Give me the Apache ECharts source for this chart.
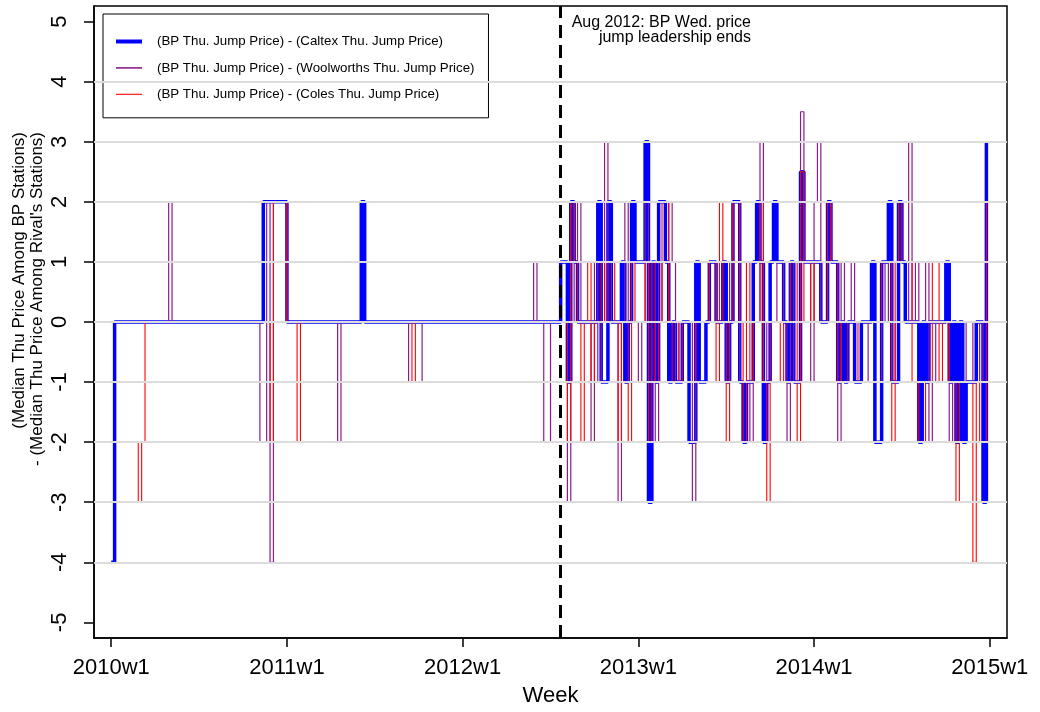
<!DOCTYPE html>
<html>
<head>
<meta charset="utf-8">
<script src="https://cdn.jsdelivr.net/npm/echarts@6/dist/echarts.min.js"></script>
<style>
html,body{margin:0;padding:0;background:#fff;}
#chart{width:1040px;height:712px;}
</style>
</head>
<body>
<div id="chart"></div>
<script>
// Week index: 0 = 2010w1, 52 = 2011w1, ... 260 = 2015w1
const xTickWeeks = [0, 52, 104, 156, 208, 260];
const xTickLabels = ['2010w1', '2011w1', '2012w1', '2013w1', '2014w1', '2015w1'];
const yTickValues = [-5, -4, -3, -2, -1, 0, 1, 2, 3, 4, 5];
const gridLevels = [-4, -3, -2, -1, 0, 1, 2, 3, 4];
const leadershipEndWeek = 133;

const seriesNames = [
  '(BP Thu. Jump Price) - (Caltex Thu. Jump Price)',
  '(BP Thu. Jump Price) - (Woolworths Thu. Jump Price)',
  '(BP Thu. Jump Price) - (Coles Thu. Jump Price)'
];

// [week, value] at each change of the step series
const caltexDiff = [[0,-4],[1,0],[45,2],[52,0],[74,2],[75,0],[133,1],[135,-1],[136,2],[137,1],[138,0],
  [144,2],[145,-1],[147,2],[148,0],[151,1],[152,-1],[153,0],[154,2],[155,1],[158,3],[159,-3],[160,1],
  [161,-1],[162,2],[164,1],[165,-1],[166,0],[167,-1],[169,0],[171,-2],[173,1],[174,-1],[176,0],[177,1],
  [179,0],[181,1],[182,-1],[183,0],[184,2],[186,-1],[187,-2],[188,-1],[190,1],[191,2],[192,1],[193,-2],
  [194,-1],[195,1],[196,2],[197,1],[199,0],[200,-1],[201,1],[202,-1],[204,2.5],[205,1],[210,0],[212,2],
  [213,1],[215,-1],[216,0],[217,-1],[218,0],[220,-1],[222,0],[225,1],[226,-2],[228,1],[230,2],[231,-1],
  [233,2],[234,1],[235,0],[239,-2],[240,0],[241,-1],[242,0],[247,1],[248,-1],[249,0],[250,-2],[251,0],
  [252,-2],[253,-1],[256,0],[258,-3],[259,3]];

const woolworthsDiff = [[0,0],[17,2],[18,0],[44,-2],[46,2],[47,-4],[48,2],[52,0],[67,-2],[68,0],[88,-1],
  [92,0],[125,1],[126,0],[128,-2],[130,0],[135,-3],[136,2],[137,0],[138,2],[139,0],[142,-2],[143,1],
  [144,-1],[145,0],[146,3],[147,1],[148,0],[150,-3],[151,0],[152,2],[153,0],[156,-1],[157,0],[158,2],
  [159,0],[161,-2],[162,1],[163,0],[165,2],[166,1],[167,-1],[168,0],[172,-3],[173,0],[177,1],[179,0],
  [183,1],[184,2],[186,-1],[189,-2],[190,0],[192,3],[193,-1],[194,0],[197,1],[199,0],[200,-2],[201,1],
  [202,-1],[204,3.5],[205,1],[207,-1],[208,2],[209,3],[210,0],[212,2],[213,1],[215,-2],[216,1],[217,0],
  [219,1],[220,0],[224,-1],[228,0],[229,1],[230,0],[231,-1],[232,0],[236,3],[237,0],[238,1],[239,0],
  [241,1],[242,-2],[243,-1],[244,0],[248,-2],[249,-1],[253,0],[255,-1],[257,0],[258,-1],[259,-1]];

const colesDiff = [[5,-2],[8,-3],[9,-2],[10,0],[47,-2],[48,2],[52,0],[55,-2],[56,0],[89,-1],[90,0],
  [135,-2],[136,2],[137,1],[138,0],[139,-2],[140,0],[141,1],[142,-1],[143,0],[145,1],[146,0],[147,1],
  [149,0],[150,-2],[151,0],[153,-2],[154,1],[155,0],[158,1],[159,-2],[160,1],[161,-1],[162,0],[163,2],
  [165,0],[166,-1],[168,0],[169,-1],[173,0],[177,1],[179,-1],[180,2],[181,0],[182,-2],[183,0],[184,2],
  [186,0],[187,-2],[188,1],[189,-1],[190,0],[192,2],[193,-1],[194,-3],[195,0],[198,-1],[199,0],[201,1],
  [203,-2],[204,2.5],[205,0],[207,1],[208,0],[212,2],[213,1],[215,-1],[216,0],[218,-1],[221,0],[228,1],
  [231,-2],[232,1],[233,2],[234,1],[237,-1],[239,-2],[241,-1],[243,1],[245,-1],[246,0],[248,-1],
  [250,-3],[251,-1],[255,-4],[256,-1],[257,-2],[259,2]];

const FONT = '"Liberation Sans", Arial, Helvetica, sans-serif';
const chart = echarts.init(document.getElementById('chart'), null, {renderer: 'canvas'});

const option = {
  backgroundColor: '#ffffff',
  animation: false,
  grid: {left: 94, right: 33, top: 6, bottom: 71, show: true, borderColor: '#000', borderWidth: 1.5, backgroundColor: 'transparent'},
  legend: {
    data: [
      {name: seriesNames[0], lineStyle: {width: 4}},
      {name: seriesNames[1], lineStyle: {width: 1.6}},
      {name: seriesNames[2], lineStyle: {width: 1.1}}
    ],
    orient: 'vertical', left: 103, top: 14,
    padding: [21, 14, 17, 11], itemWidth: 26, itemHeight: 14, itemGap: 13.4,
    backgroundColor: '#fff', borderColor: '#000', borderWidth: 1, borderRadius: 0,
    selectedMode: false,
    itemStyle: {opacity: 0},
    textStyle: {fontFamily: FONT, fontSize: 13.3, color: '#000', padding: [0, 0, 0, 10]}
  },
  xAxis: {
    type: 'value', min: -5.1, max: 265.1,
    name: 'Week', nameLocation: 'middle', nameGap: 47,
    nameTextStyle: {fontFamily: FONT, fontSize: 22, color: '#000'},
    axisLine: {show: true, onZero: false, lineStyle: {color: '#000', width: 1.5}},
    axisTick: {show: true, length: 9, customValues: xTickWeeks, lineStyle: {color: '#000', width: 1.5}},
    axisLabel: {customValues: xTickWeeks, margin: 19, fontFamily: FONT, fontSize: 22, color: '#000',
      formatter: v => { const i = xTickWeeks.indexOf(v); return i >= 0 ? xTickLabels[i] : ''; }},
    splitLine: {show: false}
  },
  yAxis: {
    type: 'value', min: -5.26, max: 5.26,
    axisLine: {show: true, onZero: false, lineStyle: {color: '#000', width: 1.5}},
    axisTick: {show: true, length: 10, customValues: yTickValues, lineStyle: {color: '#000', width: 1.5}},
    axisLabel: {customValues: yTickValues, rotate: 90, margin: 23, fontFamily: FONT, fontSize: 22, color: '#000',
      formatter: v => String(v)},
    splitLine: {show: false}
  },
  graphic: [
    {type: 'text', x: 751, y: 15, z: 100,
      style: {text: 'Aug 2012: BP Wed. price\njump leadership ends', align: 'right', verticalAlign: 'top',
        fontFamily: FONT, fontSize: 16, lineHeight: 15, fill: '#000'}},
    {type: 'text', x: 28, y: 132, rotation: Math.PI / 2, z: 100,
      style: {text: '(Median Thu Price Among BP Stations)\n- (Median Thu Price Among Rival\'s Stations)',
        align: 'right', verticalAlign: 'middle', fontFamily: FONT, fontSize: 17, lineHeight: 18, fill: '#000'}}
  ],
  series: [
    {type: 'line', name: '__grid', data: [], z: 1, silent: true,
      markLine: {silent: true, symbol: ['none', 'none'], label: {show: false}, animation: false,
        lineStyle: {color: '#dcdcdc', width: 2, type: 'solid'},
        data: gridLevels.map(v => ({yAxis: v}))}},
    {type: 'line', name: seriesNames[0], data: caltexDiff, step: 'end', showSymbol: false, symbol: 'none', z: 2,
      lineStyle: {color: '#0000ff', width: 3.5}, itemStyle: {color: '#0000ff'}},
    {type: 'line', name: seriesNames[1], data: woolworthsDiff, step: 'end', showSymbol: false, symbol: 'none', z: 3,
      lineStyle: {color: '#8b1c8b', width: 1.2}, itemStyle: {color: '#8b1c8b'}},
    {type: 'line', name: seriesNames[2], data: colesDiff, step: 'end', showSymbol: false, symbol: 'none', z: 4,
      lineStyle: {color: '#ff0000', width: 1.1}, itemStyle: {color: '#ff0000'}},
    {type: 'line', name: '__vline', data: [], z: 5, silent: true,
      markLine: {silent: true, symbol: ['none', 'none'], label: {show: false}, animation: false,
        lineStyle: {color: '#000', width: 3, type: [13, 7]},
        data: [{xAxis: leadershipEndWeek}]}}
  ]
};
chart.setOption(option);
</script>
</body>
</html>
